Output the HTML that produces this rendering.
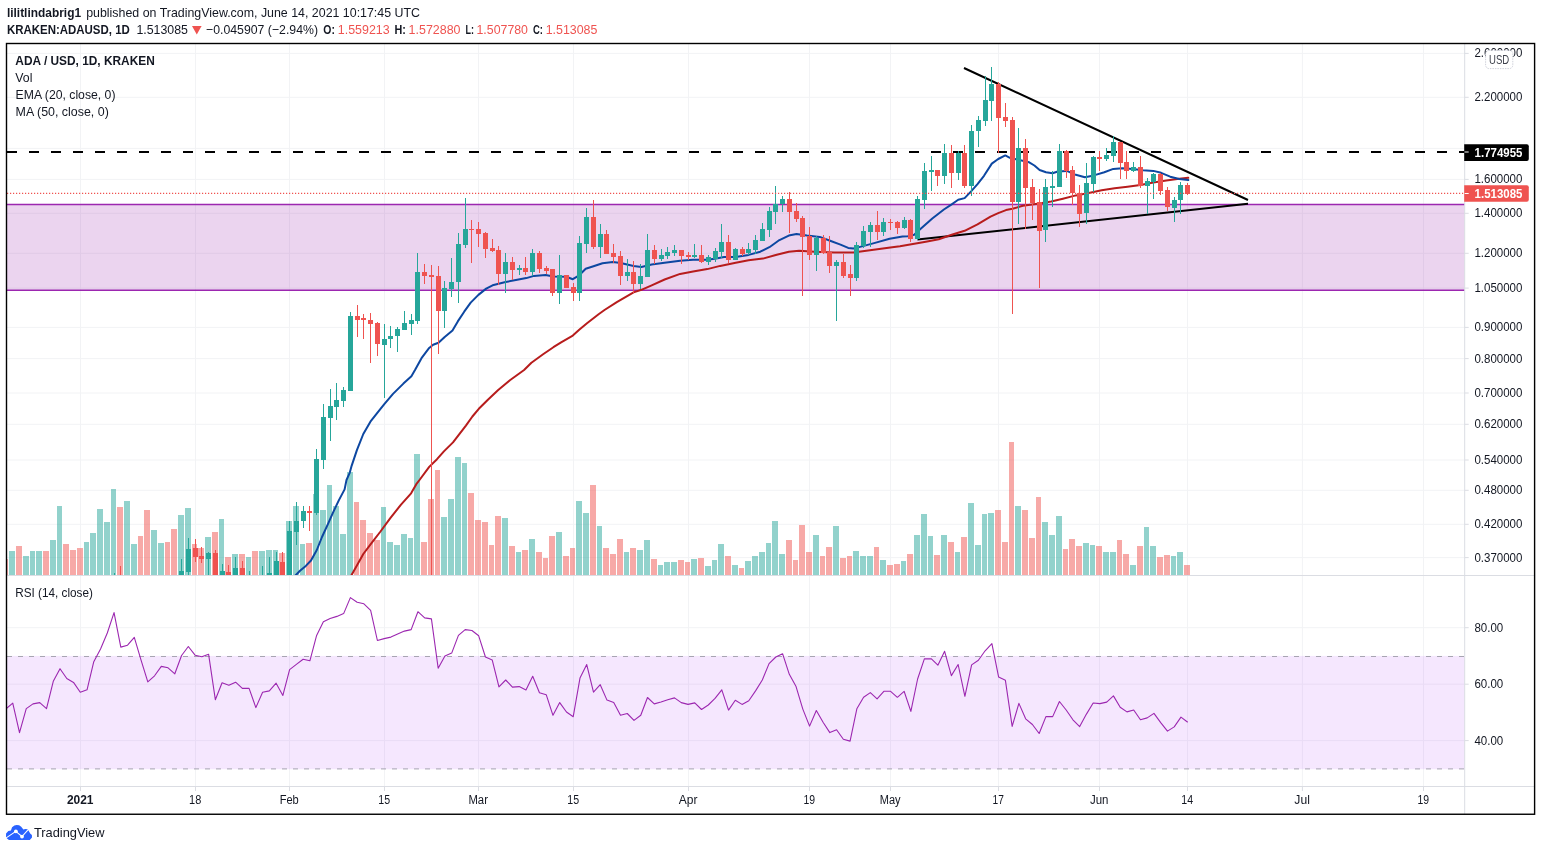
<!DOCTYPE html>
<html><head><meta charset="utf-8"><title>ADAUSD chart</title>
<style>html,body{margin:0;padding:0;background:#fff;overflow:hidden}body{width:1541px;height:851px;position:relative;font-family:"Liberation Sans",sans-serif}</style>
</head><body>
<svg width="1541" height="851" viewBox="0 0 1541 851" style="position:absolute;left:0;top:0;will-change:transform;transform:translateZ(0);font-family:'Liberation Sans',sans-serif">
<defs><clipPath id="cm"><rect x="7" y="44" width="1457.7" height="531.5"/></clipPath>
<clipPath id="cr"><rect x="7" y="576" width="1457.7" height="210"/></clipPath></defs>
<rect width="1541" height="851" fill="#fff"/>
<path d="M7 53.4 H1464.7 M7 97.3 H1464.7 M7 148.4 H1464.7 M7 179.4 H1464.7 M7 213.3 H1464.7 M7 253.3 H1464.7 M7 288.1 H1464.7 M7 327.4 H1464.7 M7 358.6 H1464.7 M7 393 H1464.7 M7 424.3 H1464.7 M7 460 H1464.7 M7 490.3 H1464.7 M7 524.3 H1464.7 M7 557.6 H1464.7 M7 627.7 H1464.7 M7 684.2 H1464.7 M7 740.6 H1464.7 M80.5 44 V786.5 M195.5 44 V786.5 M289.5 44 V786.5 M384.5 44 V786.5 M478.5 44 V786.5 M573.5 44 V786.5 M688.5 44 V786.5 M809.5 44 V786.5 M890.5 44 V786.5 M998.5 44 V786.5 M1099.5 44 V786.5 M1187.5 44 V786.5 M1302.4 44 V786.5 M1423.5 44 V786.5" stroke="#f2f3f5" stroke-width="1" fill="none"/>
<rect x="7" y="204.5" width="1457.7" height="85.8" fill="#9c27b0" fill-opacity="0.2"/>
<path d="M7 204.5 H1464.7 M7 290.3 H1464.7" stroke="#9c27b0" stroke-width="1.4" fill="none"/>
<path d="M7 152 H1464.7" stroke="#000" stroke-width="2" stroke-dasharray="10 12" fill="none"/>
<path d="M964 68 L1248 200 M917.4 239.6 L1248 203.8" stroke="#000" stroke-width="2.05" fill="none"/>
<g clip-path="url(#cm)" shape-rendering="crispEdges">
<path d="M9 551 H15 V575.5 H9 Z M23 556 H29 V575.5 H23 Z M30 551 H35 V575.5 H30 Z M36 551 H42 V575.5 H36 Z M50 540 H56 V575.5 H50 Z M57 506 H62 V575.5 H57 Z M84 542 H89 V575.5 H84 Z M90 533 H96 V575.5 H90 Z M97 509 H103 V575.5 H97 Z M104 522 H110 V575.5 H104 Z M111 489 H116 V575.5 H111 Z M124 501 H130 V575.5 H124 Z M131 544 H137 V575.5 H131 Z M151 530 H157 V575.5 H151 Z M158 543 H164 V575.5 H158 Z M178 515 H184 V575.5 H178 Z M185 508 H191 V575.5 H185 Z M205 537 H211 V575.5 H205 Z M219 519 H224 V575.5 H219 Z M232 554 H238 V575.5 H232 Z M246 557 H251 V575.5 H246 Z M259 551 H265 V575.5 H259 Z M266 550 H272 V575.5 H266 Z M273 550 H278 V575.5 H273 Z M286 521 H292 V575.5 H286 Z M293 506 H299 V575.5 H293 Z M300 544 H305 V575.5 H300 Z M313 494 H319 V575.5 H313 Z M320 510 H326 V575.5 H320 Z M327 485 H332 V575.5 H327 Z M333 506 H339 V575.5 H333 Z M340 534 H346 V575.5 H340 Z M347 472 H353 V575.5 H347 Z M381 507 H386 V575.5 H381 Z M387 542 H393 V575.5 H387 Z M394 545 H400 V575.5 H394 Z M401 534 H407 V575.5 H401 Z M408 538 H413 V575.5 H408 Z M414 454 H420 V575.5 H414 Z M441 517 H447 V575.5 H441 Z M448 499 H454 V575.5 H448 Z M455 457 H461 V575.5 H455 Z M462 463 H467 V575.5 H462 Z M502 518 H508 V575.5 H502 Z M516 552 H521 V575.5 H516 Z M529 539 H535 V575.5 H529 Z M556 532 H562 V575.5 H556 Z M576 501 H582 V575.5 H576 Z M583 513 H589 V575.5 H583 Z M597 526 H602 V575.5 H597 Z M624 552 H629 V575.5 H624 Z M637 550 H643 V575.5 H637 Z M644 540 H650 V575.5 H644 Z M658 565 H663 V575.5 H658 Z M664 562 H670 V575.5 H664 Z M671 562 H677 V575.5 H671 Z M691 559 H697 V575.5 H691 Z M705 566 H711 V575.5 H705 Z M712 560 H717 V575.5 H712 Z M718 544 H724 V575.5 H718 Z M732 565 H738 V575.5 H732 Z M745 561 H751 V575.5 H745 Z M752 556 H758 V575.5 H752 Z M759 552 H765 V575.5 H759 Z M766 543 H771 V575.5 H766 Z M772 521 H778 V575.5 H772 Z M779 554 H785 V575.5 H779 Z M813 535 H819 V575.5 H813 Z M833 526 H839 V575.5 H833 Z M853 551 H859 V575.5 H853 Z M860 556 H866 V575.5 H860 Z M867 556 H873 V575.5 H867 Z M880 560 H886 V575.5 H880 Z M901 561 H906 V575.5 H901 Z M914 535 H920 V575.5 H914 Z M921 514 H927 V575.5 H921 Z M928 536 H933 V575.5 H928 Z M941 535 H947 V575.5 H941 Z M955 552 H960 V575.5 H955 Z M968 503 H974 V575.5 H968 Z M975 545 H981 V575.5 H975 Z M982 514 H987 V575.5 H982 Z M988 513 H994 V575.5 H988 Z M1015 506 H1021 V575.5 H1015 Z M1042 522 H1048 V575.5 H1042 Z M1049 535 H1055 V575.5 H1049 Z M1056 516 H1062 V575.5 H1056 Z M1083 543 H1089 V575.5 H1083 Z M1090 545 H1095 V575.5 H1090 Z M1103 552 H1109 V575.5 H1103 Z M1110 552 H1116 V575.5 H1110 Z M1130 565 H1136 V575.5 H1130 Z M1144 527 H1149 V575.5 H1144 Z M1150 546 H1156 V575.5 H1150 Z M1171 556 H1176 V575.5 H1171 Z M1177 552 H1183 V575.5 H1177 Z" fill="#26a69a" fill-opacity="0.5"/>
<path d="M16 546 H22 V575.5 H16 Z M43 551 H49 V575.5 H43 Z M63 544 H69 V575.5 H63 Z M70 550 H76 V575.5 H70 Z M77 548 H83 V575.5 H77 Z M117 507 H123 V575.5 H117 Z M138 536 H143 V575.5 H138 Z M144 510 H150 V575.5 H144 Z M165 542 H170 V575.5 H165 Z M171 529 H177 V575.5 H171 Z M192 544 H197 V575.5 H192 Z M198 548 H204 V575.5 H198 Z M212 532 H218 V575.5 H212 Z M225 557 H231 V575.5 H225 Z M239 554 H245 V575.5 H239 Z M252 551 H258 V575.5 H252 Z M279 553 H285 V575.5 H279 Z M306 543 H312 V575.5 H306 Z M354 502 H359 V575.5 H354 Z M360 520 H366 V575.5 H360 Z M367 533 H373 V575.5 H367 Z M374 540 H380 V575.5 H374 Z M421 542 H427 V575.5 H421 Z M428 499 H434 V575.5 H428 Z M435 470 H440 V575.5 H435 Z M468 493 H474 V575.5 H468 Z M475 520 H481 V575.5 H475 Z M482 522 H488 V575.5 H482 Z M489 545 H494 V575.5 H489 Z M495 516 H501 V575.5 H495 Z M509 546 H515 V575.5 H509 Z M522 550 H528 V575.5 H522 Z M536 552 H542 V575.5 H536 Z M543 558 H548 V575.5 H543 Z M549 536 H555 V575.5 H549 Z M563 556 H569 V575.5 H563 Z M570 548 H575 V575.5 H570 Z M590 485 H596 V575.5 H590 Z M603 548 H609 V575.5 H603 Z M610 554 H616 V575.5 H610 Z M617 539 H623 V575.5 H617 Z M630 548 H636 V575.5 H630 Z M651 559 H657 V575.5 H651 Z M678 560 H684 V575.5 H678 Z M685 562 H690 V575.5 H685 Z M698 558 H704 V575.5 H698 Z M725 556 H731 V575.5 H725 Z M739 568 H744 V575.5 H739 Z M786 540 H792 V575.5 H786 Z M793 560 H798 V575.5 H793 Z M799 525 H805 V575.5 H799 Z M806 552 H812 V575.5 H806 Z M820 556 H825 V575.5 H820 Z M826 547 H832 V575.5 H826 Z M840 558 H846 V575.5 H840 Z M847 556 H852 V575.5 H847 Z M874 547 H879 V575.5 H874 Z M887 565 H893 V575.5 H887 Z M894 564 H900 V575.5 H894 Z M907 554 H913 V575.5 H907 Z M934 555 H940 V575.5 H934 Z M948 542 H954 V575.5 H948 Z M961 537 H967 V575.5 H961 Z M995 510 H1001 V575.5 H995 Z M1002 542 H1008 V575.5 H1002 Z M1009 442 H1014 V575.5 H1009 Z M1022 510 H1028 V575.5 H1022 Z M1029 538 H1035 V575.5 H1029 Z M1036 497 H1041 V575.5 H1036 Z M1063 549 H1068 V575.5 H1063 Z M1069 539 H1075 V575.5 H1069 Z M1076 546 H1082 V575.5 H1076 Z M1096 546 H1102 V575.5 H1096 Z M1117 540 H1122 V575.5 H1117 Z M1123 554 H1129 V575.5 H1123 Z M1137 546 H1143 V575.5 H1137 Z M1157 557 H1163 V575.5 H1157 Z M1164 555 H1170 V575.5 H1164 Z M1184 565 H1190 V575.5 H1184 Z M7 559 H8 V575.5 H7 Z" fill="#ef5350" fill-opacity="0.5"/>
</g>
<g clip-path="url(#cm)" fill="none" stroke-linejoin="round" stroke-linecap="round">
<path d="M351 576 L356.9 565.6 L363.3 554 L371.1 543.7 L380.1 532 L390.5 517.8 L400.8 504.9 L411.1 493.3 L416.3 484.2 L419.5 480 L429.2 466.9 L437 459.2 L443.9 451.4 L453 442.4 L465.9 425.6 L472.4 416.5 L478.8 408.8 L487.9 399.7 L498.2 390 L509.9 380.3 L524.1 370 L531.4 362.7 L543.1 354.3 L553.4 347.2 L561.1 342.3 L572.8 335.6 L579.2 329.8 L587 323.3 L598.6 314.2 L604.5 310 L616.8 302.1 L633.6 292.4 L641.4 289.8 L651.7 285.3 L664.6 279.5 L680.1 273.9 L693.1 271.5 L707.3 269.1 L720.2 265.9 L735.7 262.7 L748.6 260.3 L762.9 258.6 L775.8 255 L788.8 251.7 L799.1 250.8 L814.6 251.7 L834 252.4 L853.4 252.6 L866.3 250.8 L879.2 249.1 L892.2 247.2 L900 246.3 L912.9 244.1 L925.8 241.8 L938.8 239.2 L951.7 234.7 L964.6 230.8 L977.5 224.3 L990.5 216.6 L998.2 213.1 L1006 210.1 L1012.4 208.8 L1022.8 205.8 L1035.7 204 L1042.2 203 L1051.2 201.5 L1062.9 198.7 L1075.8 195.4 L1088.8 192.9 L1101.7 190.3 L1114.6 188.3 L1127.5 186.8 L1140.5 185.1 L1153.4 182.5 L1166.3 180.6 L1179.2 178.8 L1188.3 177.8" stroke="#b71c1c" stroke-width="2"/>
<path d="M295 576 L300 570.8 L305.8 565.9 L311 560.5 L316.8 550 L322 537 L327.8 524.3 L333 512.6 L338.8 500.4 L344.6 489.4 L346.5 480 L349.8 472.6 L351.7 465.6 L356.9 450.1 L363.3 434 L370.4 421.7 L377.5 412.6 L384.5 403.9 L393 393.9 L403.4 383.6 L411.4 376.2 L415 370 L421.5 358.2 L429.2 347.9 L433.1 344.7 L438.5 342.7 L444.7 336.9 L452.5 330.4 L457.8 321.4 L464.2 311.7 L470.7 302.6 L478.4 294.9 L486.2 288.6 L492.6 285.3 L505.6 282 L517.2 279.8 L526.3 278.1 L534 275.9 L545.6 275 L553.4 276.6 L566.3 276.8 L572.8 279.2 L579.2 275.3 L585.7 268.8 L593.5 266.3 L602.5 263.3 L612.9 262 L620.7 263.1 L633.6 265.9 L641.4 266.9 L651.7 264.6 L664.6 262.7 L680.1 260.7 L693.1 259.7 L707.3 259.7 L716.3 258.4 L724.1 256.9 L735.7 256.9 L748.6 254.9 L760.3 251.7 L769.4 247.2 L778.4 240.7 L788.8 235.6 L796.5 234 L806.9 235.6 L819.8 236.9 L830.1 240.7 L840.5 244.6 L848.2 247.9 L853.4 248.5 L861.1 246.6 L874.1 243.1 L889.6 238.8 L902.5 236.5 L907.8 236.3 L914.2 234.7 L920.7 228.8 L932.3 218.5 L943.9 209.5 L951.7 204.3 L958.2 199.8 L964.6 198.1 L971.1 191.4 L977.5 184.2 L984 175.8 L991.8 163.6 L998.2 159 L1005.3 155.4 L1009.9 157.8 L1029.2 162.3 L1034.4 165.5 L1039.6 170 L1046 172.2 L1052.5 173.3 L1057.8 171.5 L1066.8 170.9 L1075.8 174.8 L1084.9 177.3 L1093.9 175.4 L1104.3 172.2 L1113.3 168.9 L1122.4 168.3 L1132.7 168.9 L1143.1 170.2 L1153.4 170.9 L1161.1 172.8 L1170.2 176.7 L1179.2 179 L1188.3 180.1" stroke="#0d47a1" stroke-width="2"/>
</g>
<g clip-path="url(#cm)" shape-rendering="crispEdges">
<path d="M114 573 h1 V600 h-1 Z M112 580 h5 V600 h-5 Z M181 559 h1 V600 h-1 Z M179 571 h5 V600 h-5 Z M188 538 h1 V580 h-1 Z M186 549 h5 V572 h-5 Z M208 552 h1 V580 h-1 Z M206 553 h5 V559 h-5 Z M222 564 h1 V580 h-1 Z M220 571 h5 V580 h-5 Z M235 557 h1 V580 h-1 Z M233 568 h5 V580 h-5 Z M249 571 h1 V580 h-1 Z M247 580 h5 V581 h-5 Z M262 566 h1 V580 h-1 Z M260 580 h5 V581 h-5 Z M269 557 h1 V580 h-1 Z M267 573 h5 V580 h-5 Z M276 552 h1 V580 h-1 Z M274 561 h5 V580 h-5 Z M289 521 h1 V580 h-1 Z M287 531 h5 V580 h-5 Z M296 502 h1 V545 h-1 Z M294 521 h5 V532 h-5 Z M303 506 h1 V528 h-1 Z M301 511 h5 V521 h-5 Z M316 449 h1 V515 h-1 Z M314 459 h5 V513 h-5 Z M323 404 h1 V469 h-1 Z M321 417 h5 V460 h-5 Z M330 389 h1 V441 h-1 Z M328 406 h5 V418 h-5 Z M336 383 h1 V420 h-1 Z M334 400 h5 V407 h-5 Z M343 387 h1 V407 h-1 Z M341 390 h5 V401 h-5 Z M350 312 h1 V391 h-1 Z M348 316 h5 V391 h-5 Z M384 324 h1 V398 h-1 Z M382 339 h5 V345 h-5 Z M390 326 h1 V348 h-1 Z M388 336 h5 V339 h-5 Z M397 327 h1 V352 h-1 Z M395 329 h5 V336 h-5 Z M404 311 h1 V330 h-1 Z M402 323 h5 V330 h-5 Z M411 314 h1 V335 h-1 Z M409 320 h5 V324 h-5 Z M417 253 h1 V324 h-1 Z M415 272 h5 V321 h-5 Z M444 281 h1 V328 h-1 Z M442 288 h5 V311 h-5 Z M451 258 h1 V297 h-1 Z M449 282 h5 V289 h-5 Z M458 233 h1 V303 h-1 Z M456 244 h5 V282 h-5 Z M465 198 h1 V248 h-1 Z M463 229 h5 V245 h-5 Z M505 253 h1 V293 h-1 Z M503 262 h5 V274 h-5 Z M519 265 h1 V275 h-1 Z M517 268 h5 V270 h-5 Z M532 249 h1 V276 h-1 Z M530 253 h5 V272 h-5 Z M559 255 h1 V304 h-1 Z M557 275 h5 V293 h-5 Z M579 236 h1 V301 h-1 Z M577 243 h5 V293 h-5 Z M586 208 h1 V253 h-1 Z M584 217 h5 V244 h-5 Z M600 224 h1 V258 h-1 Z M598 234 h5 V247 h-5 Z M627 259 h1 V281 h-1 Z M625 272 h5 V276 h-5 Z M640 264 h1 V289 h-1 Z M638 276 h5 V284 h-5 Z M647 234 h1 V277 h-1 Z M645 250 h5 V277 h-5 Z M661 249 h1 V261 h-1 Z M659 255 h5 V259 h-5 Z M667 247 h1 V259 h-1 Z M665 252 h5 V256 h-5 Z M674 245 h1 V256 h-1 Z M672 250 h5 V253 h-5 Z M694 244 h1 V258 h-1 Z M692 255 h5 V257 h-5 Z M708 255 h1 V265 h-1 Z M706 257 h5 V262 h-5 Z M715 248 h1 V262 h-1 Z M713 251 h5 V259 h-5 Z M721 224 h1 V258 h-1 Z M719 242 h5 V252 h-5 Z M735 248 h1 V260 h-1 Z M733 249 h5 V260 h-5 Z M748 243 h1 V255 h-1 Z M746 249 h5 V253 h-5 Z M755 235 h1 V254 h-1 Z M753 240 h5 V250 h-5 Z M762 223 h1 V241 h-1 Z M760 229 h5 V241 h-5 Z M769 207 h1 V237 h-1 Z M767 211 h5 V230 h-5 Z M775 186 h1 V224 h-1 Z M773 204 h5 V212 h-5 Z M782 196 h1 V212 h-1 Z M780 199 h5 V204 h-5 Z M816 236 h1 V271 h-1 Z M814 238 h5 V255 h-5 Z M836 260 h1 V321 h-1 Z M834 262 h5 V266 h-5 Z M856 242 h1 V281 h-1 Z M854 245 h5 V278 h-5 Z M863 226 h1 V248 h-1 Z M861 231 h5 V246 h-5 Z M870 222 h1 V247 h-1 Z M868 225 h5 V232 h-5 Z M883 218 h1 V236 h-1 Z M881 222 h5 V232 h-5 Z M904 217 h1 V229 h-1 Z M902 220 h5 V228 h-5 Z M917 196 h1 V240 h-1 Z M915 199 h5 V239 h-5 Z M924 163 h1 V209 h-1 Z M922 171 h5 V200 h-5 Z M931 156 h1 V191 h-1 Z M929 170 h5 V172 h-5 Z M944 144 h1 V184 h-1 Z M942 153 h5 V176 h-5 Z M958 151 h1 V180 h-1 Z M956 153 h5 V173 h-5 Z M971 125 h1 V196 h-1 Z M969 131 h5 V186 h-5 Z M978 116 h1 V147 h-1 Z M976 120 h5 V131 h-5 Z M985 76 h1 V126 h-1 Z M983 100 h5 V121 h-5 Z M991 67 h1 V121 h-1 Z M989 84 h5 V101 h-5 Z M1018 128 h1 V224 h-1 Z M1016 148 h5 V202 h-5 Z M1045 179 h1 V242 h-1 Z M1043 187 h5 V230 h-5 Z M1052 171 h1 V207 h-1 Z M1050 186 h5 V188 h-5 Z M1059 144 h1 V187 h-1 Z M1057 151 h5 V187 h-5 Z M1086 163 h1 V224 h-1 Z M1084 183 h5 V213 h-5 Z M1093 156 h1 V192 h-1 Z M1091 157 h5 V184 h-5 Z M1106 148 h1 V161 h-1 Z M1104 155 h5 V159 h-5 Z M1113 136 h1 V162 h-1 Z M1111 142 h5 V156 h-5 Z M1133 162 h1 V172 h-1 Z M1131 167 h5 V171 h-5 Z M1147 178 h1 V214 h-1 Z M1145 181 h5 V186 h-5 Z M1153 173 h1 V199 h-1 Z M1151 174 h5 V182 h-5 Z M1174 197 h1 V222 h-1 Z M1172 200 h5 V208 h-5 Z M1180 182 h1 V214 h-1 Z M1178 185 h5 V200 h-5 Z" fill="#26a69a"/>
<path d="M120 566 h1 V600 h-1 Z M118 580 h5 V600 h-5 Z M195 539 h1 V562 h-1 Z M193 548 h5 V557 h-5 Z M201 547 h1 V563 h-1 Z M199 556 h5 V559 h-5 Z M215 550 h1 V580 h-1 Z M213 553 h5 V580 h-5 Z M228 565 h1 V580 h-1 Z M226 572 h5 V580 h-5 Z M242 561 h1 V580 h-1 Z M240 568 h5 V580 h-5 Z M282 552 h1 V580 h-1 Z M280 562 h5 V580 h-5 Z M309 506 h1 V531 h-1 Z M307 511 h5 V513 h-5 Z M357 305 h1 V337 h-1 Z M355 316 h5 V320 h-5 Z M363 314 h1 V339 h-1 Z M361 318 h5 V320 h-5 Z M370 313 h1 V363 h-1 Z M368 320 h5 V324 h-5 Z M377 322 h1 V356 h-1 Z M375 323 h5 V344 h-5 Z M424 264 h1 V284 h-1 Z M422 272 h5 V276 h-5 Z M431 265 h1 V580 h-1 Z M429 275 h5 V277 h-5 Z M438 266 h1 V354 h-1 Z M436 276 h5 V311 h-5 Z M471 220 h1 V263 h-1 Z M469 229 h5 V230 h-5 Z M478 222 h1 V247 h-1 Z M476 229 h5 V234 h-5 Z M485 232 h1 V258 h-1 Z M483 233 h5 V249 h-5 Z M492 239 h1 V252 h-1 Z M490 248 h5 V251 h-5 Z M498 246 h1 V285 h-1 Z M496 250 h5 V274 h-5 Z M512 257 h1 V280 h-1 Z M510 262 h5 V270 h-5 Z M525 257 h1 V275 h-1 Z M523 268 h5 V272 h-5 Z M539 251 h1 V273 h-1 Z M537 253 h5 V269 h-5 Z M546 266 h1 V274 h-1 Z M544 268 h5 V271 h-5 Z M552 269 h1 V296 h-1 Z M550 269 h5 V293 h-5 Z M566 275 h1 V288 h-1 Z M564 275 h5 V288 h-5 Z M573 283 h1 V301 h-1 Z M571 287 h5 V293 h-5 Z M593 200 h1 V249 h-1 Z M591 217 h5 V247 h-5 Z M606 230 h1 V254 h-1 Z M604 234 h5 V254 h-5 Z M613 244 h1 V263 h-1 Z M611 253 h5 V257 h-5 Z M620 251 h1 V285 h-1 Z M618 256 h5 V276 h-5 Z M633 261 h1 V293 h-1 Z M631 272 h5 V284 h-5 Z M654 245 h1 V264 h-1 Z M652 250 h5 V259 h-5 Z M681 250 h1 V264 h-1 Z M679 250 h5 V256 h-5 Z M688 252 h1 V260 h-1 Z M686 255 h5 V257 h-5 Z M701 245 h1 V263 h-1 Z M699 255 h5 V262 h-5 Z M728 235 h1 V263 h-1 Z M726 242 h5 V260 h-5 Z M742 247 h1 V256 h-1 Z M740 249 h5 V254 h-5 Z M789 192 h1 V233 h-1 Z M787 199 h5 V212 h-5 Z M796 203 h1 V222 h-1 Z M794 211 h5 V219 h-5 Z M802 216 h1 V296 h-1 Z M800 218 h5 V237 h-5 Z M809 227 h1 V260 h-1 Z M807 236 h5 V255 h-5 Z M823 235 h1 V254 h-1 Z M821 238 h5 V253 h-5 Z M829 236 h1 V273 h-1 Z M827 252 h5 V266 h-5 Z M843 254 h1 V278 h-1 Z M841 262 h5 V276 h-5 Z M850 265 h1 V296 h-1 Z M848 274 h5 V278 h-5 Z M877 211 h1 V240 h-1 Z M875 225 h5 V232 h-5 Z M890 219 h1 V230 h-1 Z M888 222 h5 V223 h-5 Z M897 221 h1 V234 h-1 Z M895 222 h5 V228 h-5 Z M910 219 h1 V242 h-1 Z M908 220 h5 V239 h-5 Z M937 170 h1 V186 h-1 Z M935 170 h5 V176 h-5 Z M951 145 h1 V188 h-1 Z M949 153 h5 V173 h-5 Z M964 145 h1 V188 h-1 Z M962 153 h5 V186 h-5 Z M998 82 h1 V153 h-1 Z M996 84 h5 V118 h-5 Z M1005 103 h1 V127 h-1 Z M1003 117 h5 V121 h-5 Z M1012 117 h1 V314 h-1 Z M1010 120 h5 V202 h-5 Z M1025 139 h1 V229 h-1 Z M1023 148 h5 V188 h-5 Z M1032 179 h1 V220 h-1 Z M1030 187 h5 V203 h-5 Z M1039 189 h1 V288 h-1 Z M1037 202 h5 V231 h-5 Z M1066 150 h1 V178 h-1 Z M1064 151 h5 V171 h-5 Z M1072 166 h1 V205 h-1 Z M1070 170 h5 V193 h-5 Z M1079 185 h1 V227 h-1 Z M1077 193 h5 V214 h-5 Z M1099 151 h1 V171 h-1 Z M1097 157 h5 V159 h-5 Z M1120 142 h1 V179 h-1 Z M1118 142 h5 V163 h-5 Z M1126 151 h1 V179 h-1 Z M1124 162 h5 V171 h-5 Z M1140 156 h1 V188 h-1 Z M1138 167 h5 V186 h-5 Z M1160 173 h1 V195 h-1 Z M1158 174 h5 V191 h-5 Z M1167 187 h1 V211 h-1 Z M1165 190 h5 V207 h-5 Z M1187 183 h1 V195 h-1 Z M1185 185 h5 V194 h-5 Z" fill="#ef5350"/>
</g>
<path d="M7 193.4 H1464.7" stroke="#ef5350" stroke-width="1.3" stroke-dasharray="1.2 1.8" fill="none"/>
<rect x="7" y="655.9" width="1457.7" height="113.3" fill="#9b0ff5" fill-opacity="0.1"/>
<path d="M7 656.5 H1464.7 M7 768.9 H1464.7" stroke="#a7a5b1" stroke-width="1" stroke-dasharray="5 6" fill="none"/>
<path d="M6 708.8 L12.75 703.1 L19.5 732.6 L26.26 708.6 L33.01 703.9 L39.76 702.6 L46.51 708.6 L53.27 681.3 L60.02 668.7 L66.77 678.5 L73.52 682.4 L80.28 692.2 L87.03 689.8 L93.78 661.7 L100.54 649 L107.29 633 L114.04 612.6 L120.79 647.1 L127.55 645.2 L134.3 637.3 L141.05 660.2 L147.8 681.9 L154.56 675.8 L161.31 666.4 L168.06 667.8 L174.81 673.8 L181.57 655.5 L188.32 646.5 L195.07 655.2 L201.83 656.8 L208.58 654.2 L215.33 699.7 L222.08 682.8 L228.84 685.2 L235.59 682.2 L242.34 688.4 L249.09 688.4 L255.85 707.6 L262.6 692.2 L269.35 690.9 L276.11 683.2 L282.86 695.4 L289.61 669.6 L296.36 664.4 L303.12 659.3 L309.87 660.8 L316.62 635.4 L323.37 621.7 L330.13 618.5 L336.88 616.4 L343.63 613.6 L350.38 597.6 L357.14 602.3 L363.89 603.8 L370.64 610.4 L377.4 640.5 L384.15 638.6 L390.9 637.1 L397.65 633.9 L404.41 631.1 L411.16 629.6 L417.91 611.7 L424.66 617.9 L431.42 618.9 L438.17 668.3 L444.92 656.1 L451.68 653.1 L458.43 635.4 L465.18 629.6 L471.93 630.5 L478.69 635.8 L485.44 657 L492.19 659.9 L498.94 686.9 L505.7 680 L512.45 687.1 L519.2 686.6 L525.96 690 L532.71 676.2 L539.46 692.8 L546.21 694.7 L552.97 715.3 L559.72 702.6 L566.47 712 L573.22 716.7 L579.98 678.1 L586.73 664.6 L593.48 692.2 L600.23 684.7 L606.99 700.1 L613.74 702.6 L620.49 715.3 L627.25 713.5 L634 720.4 L640.75 715.3 L647.5 697.5 L654.26 703.9 L661.01 702 L667.76 699.7 L674.51 697.9 L681.27 702.6 L688.02 704.4 L694.77 702.9 L701.53 709.5 L708.28 705 L715.03 698.4 L721.78 689.8 L728.54 710.1 L735.29 700.3 L742.04 704.4 L748.79 700.7 L755.55 690.9 L762.3 680 L769.05 663.6 L775.81 657 L782.56 653.7 L789.31 674.3 L796.06 686.6 L802.82 709.1 L809.57 726.1 L816.32 710.5 L823.07 722.3 L829.83 732.6 L836.58 729.8 L843.33 739.2 L850.08 741.1 L856.84 708.8 L863.59 697.3 L870.34 692.6 L877.1 698.8 L883.85 691.3 L890.6 691.3 L897.35 697.3 L904.11 691.3 L910.86 711.4 L917.61 679 L924.36 658.9 L931.12 658.7 L937.87 665.2 L944.62 651.3 L951.38 675.6 L958.13 664.5 L964.88 696.3 L971.63 664.9 L978.39 660.2 L985.14 650.8 L991.89 643.6 L998.64 677.1 L1005.4 680.3 L1012.15 726.4 L1018.9 703.4 L1025.65 718.8 L1032.41 724.5 L1039.16 733.5 L1045.91 716.6 L1052.67 716.6 L1059.42 701.5 L1066.17 710 L1072.92 719.8 L1079.68 726.6 L1086.43 714.1 L1093.18 703 L1099.93 703.6 L1106.69 702.1 L1113.44 695.9 L1120.19 707.2 L1126.95 711.9 L1133.7 710 L1140.45 719.8 L1147.2 717.9 L1153.96 713.4 L1160.71 722.6 L1167.46 731.1 L1174.21 726.9 L1180.97 717.1 L1187.72 722.2" stroke="#9c27b0" stroke-width="1.1" fill="none" stroke-linejoin="round" clip-path="url(#cr)"/>
<path d="M7 575.5 H1534 M7 786.5 H1534 M1464.7 44 V814" stroke="#dbdde3" stroke-width="1" fill="none"/>
<path d="M1464.7 53.4 h4 M1464.7 97.3 h4 M1464.7 148.4 h4 M1464.7 179.4 h4 M1464.7 213.3 h4 M1464.7 253.3 h4 M1464.7 288.1 h4 M1464.7 327.4 h4 M1464.7 358.6 h4 M1464.7 393 h4 M1464.7 424.3 h4 M1464.7 460 h4 M1464.7 490.3 h4 M1464.7 524.3 h4 M1464.7 557.6 h4 M1464.7 627.7 h4 M1464.7 684.2 h4 M1464.7 740.6 h4 M80.5 786.5 v4.5 M195.5 786.5 v4.5 M289.5 786.5 v4.5 M384.5 786.5 v4.5 M478.5 786.5 v4.5 M573.5 786.5 v4.5 M688.5 786.5 v4.5 M809.5 786.5 v4.5 M890.5 786.5 v4.5 M998.5 786.5 v4.5 M1099.5 786.5 v4.5 M1187.5 786.5 v4.5 M1302.4 786.5 v4.5 M1423.5 786.5 v4.5" stroke="#dbdde3" stroke-width="1" fill="none"/>
<g>
<text x="1474.4" y="57.4" font-size="12" font-weight="normal" fill="#131722" text-anchor="start" textLength="48" lengthAdjust="spacingAndGlyphs">2.600000</text>
<text x="1474.4" y="101.3" font-size="12" font-weight="normal" fill="#131722" text-anchor="start" textLength="48" lengthAdjust="spacingAndGlyphs">2.200000</text>
<text x="1474.4" y="183.4" font-size="12" font-weight="normal" fill="#131722" text-anchor="start" textLength="48" lengthAdjust="spacingAndGlyphs">1.600000</text>
<text x="1474.4" y="217.3" font-size="12" font-weight="normal" fill="#131722" text-anchor="start" textLength="48" lengthAdjust="spacingAndGlyphs">1.400000</text>
<text x="1474.4" y="257.3" font-size="12" font-weight="normal" fill="#131722" text-anchor="start" textLength="48" lengthAdjust="spacingAndGlyphs">1.200000</text>
<text x="1474.4" y="292.1" font-size="12" font-weight="normal" fill="#131722" text-anchor="start" textLength="48" lengthAdjust="spacingAndGlyphs">1.050000</text>
<text x="1474.4" y="331.4" font-size="12" font-weight="normal" fill="#131722" text-anchor="start" textLength="48" lengthAdjust="spacingAndGlyphs">0.900000</text>
<text x="1474.4" y="362.6" font-size="12" font-weight="normal" fill="#131722" text-anchor="start" textLength="48" lengthAdjust="spacingAndGlyphs">0.800000</text>
<text x="1474.4" y="397" font-size="12" font-weight="normal" fill="#131722" text-anchor="start" textLength="48" lengthAdjust="spacingAndGlyphs">0.700000</text>
<text x="1474.4" y="428.3" font-size="12" font-weight="normal" fill="#131722" text-anchor="start" textLength="48" lengthAdjust="spacingAndGlyphs">0.620000</text>
<text x="1474.4" y="464" font-size="12" font-weight="normal" fill="#131722" text-anchor="start" textLength="48" lengthAdjust="spacingAndGlyphs">0.540000</text>
<text x="1474.4" y="494.3" font-size="12" font-weight="normal" fill="#131722" text-anchor="start" textLength="48" lengthAdjust="spacingAndGlyphs">0.480000</text>
<text x="1474.4" y="528.3" font-size="12" font-weight="normal" fill="#131722" text-anchor="start" textLength="48" lengthAdjust="spacingAndGlyphs">0.420000</text>
<text x="1474.4" y="561.6" font-size="12" font-weight="normal" fill="#131722" text-anchor="start" textLength="48" lengthAdjust="spacingAndGlyphs">0.370000</text>
<text x="1474.4" y="631.7" font-size="12" font-weight="normal" fill="#131722" text-anchor="start" textLength="28.8" lengthAdjust="spacingAndGlyphs">80.00</text>
<text x="1474.4" y="688.2" font-size="12" font-weight="normal" fill="#131722" text-anchor="start" textLength="28.8" lengthAdjust="spacingAndGlyphs">60.00</text>
<text x="1474.4" y="744.6" font-size="12" font-weight="normal" fill="#131722" text-anchor="start" textLength="28.8" lengthAdjust="spacingAndGlyphs">40.00</text>
<text x="66.9" y="804" font-size="12" font-weight="bold" fill="#131722" text-anchor="start" textLength="26.6" lengthAdjust="spacingAndGlyphs">2021</text>
<text x="189.1" y="804" font-size="12" font-weight="normal" fill="#131722" text-anchor="start" textLength="12.2" lengthAdjust="spacingAndGlyphs">18</text>
<text x="279.65" y="804" font-size="12" font-weight="normal" fill="#131722" text-anchor="start" textLength="19.1" lengthAdjust="spacingAndGlyphs">Feb</text>
<text x="378.3" y="804" font-size="12" font-weight="normal" fill="#131722" text-anchor="start" textLength="11.8" lengthAdjust="spacingAndGlyphs">15</text>
<text x="468.45" y="804" font-size="12" font-weight="normal" fill="#131722" text-anchor="start" textLength="19.5" lengthAdjust="spacingAndGlyphs">Mar</text>
<text x="567.3" y="804" font-size="12" font-weight="normal" fill="#131722" text-anchor="start" textLength="11.8" lengthAdjust="spacingAndGlyphs">15</text>
<text x="678.85" y="804" font-size="12" font-weight="normal" fill="#131722" text-anchor="start" textLength="18.7" lengthAdjust="spacingAndGlyphs">Apr</text>
<text x="803.4" y="804" font-size="12" font-weight="normal" fill="#131722" text-anchor="start" textLength="11.6" lengthAdjust="spacingAndGlyphs">19</text>
<text x="879.8" y="804" font-size="12" font-weight="normal" fill="#131722" text-anchor="start" textLength="20.8" lengthAdjust="spacingAndGlyphs">May</text>
<text x="992.55" y="804" font-size="12" font-weight="normal" fill="#131722" text-anchor="start" textLength="11.3" lengthAdjust="spacingAndGlyphs">17</text>
<text x="1089.95" y="804" font-size="12" font-weight="normal" fill="#131722" text-anchor="start" textLength="18.5" lengthAdjust="spacingAndGlyphs">Jun</text>
<text x="1181.3" y="804" font-size="12" font-weight="normal" fill="#131722" text-anchor="start" textLength="11.8" lengthAdjust="spacingAndGlyphs">14</text>
<text x="1294.35" y="804" font-size="12" font-weight="normal" fill="#131722" text-anchor="start" textLength="15.5" lengthAdjust="spacingAndGlyphs">Jul</text>
<text x="1417.4" y="804" font-size="12" font-weight="normal" fill="#131722" text-anchor="start" textLength="11.6" lengthAdjust="spacingAndGlyphs">19</text>
<path d="M1464.2 144.2 H1526.8 a2 2 0 0 1 2 2 V158.9 a2 2 0 0 1 -2 2 H1464.2 Z" fill="#000"/>
<path d="M1464.7 152 h4" stroke="#fff" stroke-width="1"/>
<text x="1474.6" y="156.9" font-size="12" font-weight="bold" fill="#fff" text-anchor="start" textLength="47.8" lengthAdjust="spacingAndGlyphs">1.774955</text>
<path d="M1464.2 185.2 H1526.8 a2 2 0 0 1 2 2 V199.8 a2 2 0 0 1 -2 2 H1464.2 Z" fill="#ef5350"/>
<path d="M1464.7 193.5 h4" stroke="#fff" stroke-width="1"/>
<text x="1474.6" y="197.9" font-size="12" font-weight="bold" fill="#fff" text-anchor="start" textLength="47.8" lengthAdjust="spacingAndGlyphs">1.513085</text>
<rect x="1485.6" y="50.4" width="27.2" height="18.2" rx="3.5" fill="#fff" stroke="#c9ccd6" stroke-width="0.9" stroke-dasharray="1.5 1"/>
<text x="1489" y="63.6" font-size="12" font-weight="normal" fill="#3c3f4a" text-anchor="start" textLength="20.2" lengthAdjust="spacingAndGlyphs">USD</text>
<rect x="6.5" y="43.5" width="1528.1" height="770.75" fill="none" stroke="#000" stroke-width="1.4"/>
<text x="6.9" y="17" font-size="13" font-weight="bold" fill="#131722" text-anchor="start" textLength="74.2" lengthAdjust="spacingAndGlyphs">lilitlindabrig1</text>
<text x="86.2" y="17" font-size="13" font-weight="normal" fill="#131722" text-anchor="start" textLength="333.8" lengthAdjust="spacingAndGlyphs">published on TradingView.com, June 14, 2021 10:17:45 UTC</text>
<text x="6.9" y="34.3" font-size="13" font-weight="bold" fill="#131722" text-anchor="start" textLength="122.9" lengthAdjust="spacingAndGlyphs">KRAKEN:ADAUSD, 1D</text>
<text x="136.4" y="34.3" font-size="13" font-weight="normal" fill="#131722" text-anchor="start" textLength="51.6" lengthAdjust="spacingAndGlyphs">1.513085</text>
<path d="M192 26 L201.6 26 L196.8 34.4 Z" fill="#ef5350"/>
<text x="206" y="34.3" font-size="13" font-weight="normal" fill="#131722" text-anchor="start" textLength="112" lengthAdjust="spacingAndGlyphs">−0.045907 (−2.94%)</text>
<text x="323.3" y="34.3" font-size="13" font-weight="bold" fill="#131722" text-anchor="start" textLength="11.6" lengthAdjust="spacingAndGlyphs">O:</text>
<text x="337.8" y="34.3" font-size="13" font-weight="normal" fill="#ef5350" text-anchor="start" textLength="51.9" lengthAdjust="spacingAndGlyphs">1.559213</text>
<text x="394.5" y="34.3" font-size="13" font-weight="bold" fill="#131722" text-anchor="start" textLength="11.4" lengthAdjust="spacingAndGlyphs">H:</text>
<text x="408.6" y="34.3" font-size="13" font-weight="normal" fill="#ef5350" text-anchor="start" textLength="51.9" lengthAdjust="spacingAndGlyphs">1.572880</text>
<text x="465.5" y="34.3" font-size="13" font-weight="bold" fill="#131722" text-anchor="start" textLength="8.5" lengthAdjust="spacingAndGlyphs">L:</text>
<text x="476.5" y="34.3" font-size="13" font-weight="normal" fill="#ef5350" text-anchor="start" textLength="51.5" lengthAdjust="spacingAndGlyphs">1.507780</text>
<text x="533" y="34.3" font-size="13" font-weight="bold" fill="#131722" text-anchor="start" textLength="10" lengthAdjust="spacingAndGlyphs">C:</text>
<text x="545.7" y="34.3" font-size="13" font-weight="normal" fill="#ef5350" text-anchor="start" textLength="51.7" lengthAdjust="spacingAndGlyphs">1.513085</text>
<text x="15.3" y="65" font-size="13" font-weight="bold" fill="#131722" text-anchor="start" textLength="139.5" lengthAdjust="spacingAndGlyphs">ADA / USD, 1D, KRAKEN</text>
<text x="15.3" y="81.7" font-size="13" font-weight="normal" fill="#131722" text-anchor="start" textLength="17.1" lengthAdjust="spacingAndGlyphs">Vol</text>
<text x="15.6" y="98.8" font-size="13" font-weight="normal" fill="#131722" text-anchor="start" textLength="99.9" lengthAdjust="spacingAndGlyphs">EMA (20, close, 0)</text>
<text x="15.6" y="115.8" font-size="13" font-weight="normal" fill="#131722" text-anchor="start" textLength="93.2" lengthAdjust="spacingAndGlyphs">MA (50, close, 0)</text>
<text x="15.2" y="597" font-size="13" font-weight="normal" fill="#131722" text-anchor="start" textLength="77.7" lengthAdjust="spacingAndGlyphs">RSI (14, close)</text>
<path d="M8.96 840 L7 838.4 L6.04 837.1 L6.04 833.6 L8.37 831 L10.9 830.5 L12.07 827.3 L14.4 825.4 L16.7 824.9 L19.1 825.2 L21.2 826.8 L23.4 829.5 L25.3 829.1 L27.6 829.3 L28.8 831 L30.2 833.6 L31.9 835.1 L32 837.5 L29.8 840 Z" fill="#2962ff"/>
<path d="M6.2 837.9 L15.8 831.4 L22 836.5 L28.2 829.6" stroke="#fff" stroke-width="1.1" fill="none"/>
<circle cx="15.9" cy="831.3" r="1.9" fill="#fff"/><circle cx="22" cy="836.6" r="1.9" fill="#fff"/>
<text x="34" y="836.8" font-size="13" font-weight="normal" fill="#131722" text-anchor="start" textLength="70.5" lengthAdjust="spacingAndGlyphs">TradingView</text>
</g>
</svg>
</body></html>
